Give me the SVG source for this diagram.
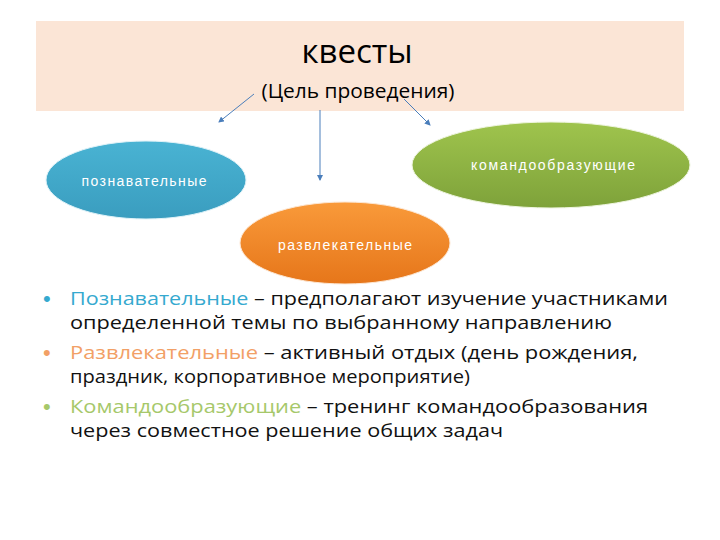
<svg xmlns="http://www.w3.org/2000/svg" width="720" height="540" viewBox="0 0 720 540">
<style>
.t{font-family:"Open Sans","Liberation Sans",sans-serif;fill:#000}
.n{font-family:"Liberation Sans","Open Sans",sans-serif;font-size:14px;fill:#fff;text-anchor:middle}
.b{font-family:"Open Sans","Liberation Sans",sans-serif;font-size:17.5px;fill:#111}
.d{font-family:"Liberation Sans",sans-serif;font-size:22px}
.c{stroke:#4a7ebb;stroke-width:1;fill:none;marker-end:url(#ah)}
</style>
<defs>
<marker id="ah" markerWidth="6" markerHeight="6" refX="5" refY="3" orient="auto" markerUnits="userSpaceOnUse">
<path d="M0,0 L6,3 L0,6 z" fill="#4a7ebb"/>
</marker>
<linearGradient id="gb" x1="0" y1="0" x2="0" y2="1"><stop offset="0" stop-color="#49b3d3"/><stop offset="1" stop-color="#3a9dbf"/></linearGradient>
<linearGradient id="gg" x1="0" y1="0" x2="0" y2="1"><stop offset="0" stop-color="#9fc44d"/><stop offset="1" stop-color="#7ea23a"/></linearGradient>
<linearGradient id="go" x1="0" y1="0" x2="0" y2="1"><stop offset="0" stop-color="#f99a3a"/><stop offset="1" stop-color="#e6761a"/></linearGradient>
</defs>
<rect width="720" height="540" fill="#fff"/>
<g id="header">
<rect x="36" y="21" width="648" height="90" fill="#fbe5d6"/>
<text class="t" x="357" y="63" font-size="33" text-anchor="middle">квесты</text>
<text class="t" x="358" y="98" font-size="20" text-anchor="middle" textLength="193" lengthAdjust="spacingAndGlyphs">(Цель проведения)</text>
</g>
<g id="connectors">
<line class="c" x1="254" y1="94" x2="219" y2="122"/>
<line class="c" x1="320" y1="110" x2="320" y2="180"/>
<line class="c" x1="404" y1="99" x2="430" y2="125"/>
</g>
<g id="node-poznavatelnye">
<ellipse cx="146" cy="180" rx="100" ry="39" fill="url(#gb)" stroke="#dff2f8" stroke-width="1"/>
<text class="n" x="144" y="186" textLength="125" lengthAdjust="spacing">познавательные</text>
</g>
<g id="node-komandoobrazuyushchie">
<ellipse cx="551" cy="165" rx="139" ry="43" fill="url(#gg)" stroke="#eef5df" stroke-width="1"/>
<text class="n" x="553" y="170" textLength="164" lengthAdjust="spacing">командообразующие</text>
</g>
<g id="node-razvlekatelnye">
<ellipse cx="345" cy="243" rx="105" ry="41" fill="url(#go)" stroke="#fde7d3" stroke-width="1"/>
<text class="n" x="345" y="250" textLength="134" lengthAdjust="spacing">развлекательные</text>
</g>
<g id="bullets">
<text class="d" x="43" y="306" style="fill:#35a9cf">•</text>
<text class="b" x="70" y="305" textLength="598" lengthAdjust="spacingAndGlyphs"><tspan style="fill:#35a9cf">Познавательные</tspan> – предполагают изучение участниками</text>
<text class="b" x="70" y="329" textLength="542" lengthAdjust="spacingAndGlyphs">определенной темы по выбранному направлению</text>
<text class="d" x="43" y="360" style="fill:#f2a066">•</text>
<text class="b" x="70" y="359" textLength="568" lengthAdjust="spacingAndGlyphs"><tspan style="fill:#f2a066">Развлекательные</tspan> – активный отдых (день рождения,</text>
<text class="b" x="70" y="383" textLength="400" lengthAdjust="spacingAndGlyphs">праздник, корпоративное мероприятие)</text>
<text class="d" x="43" y="414" style="fill:#a6c86a">•</text>
<text class="b" x="70" y="413" textLength="578" lengthAdjust="spacingAndGlyphs"><tspan style="fill:#a6c86a">Командообразующие</tspan> – тренинг командообразования</text>
<text class="b" x="70" y="437" textLength="433" lengthAdjust="spacingAndGlyphs">через совместное решение общих задач</text>
</g>
</svg>
